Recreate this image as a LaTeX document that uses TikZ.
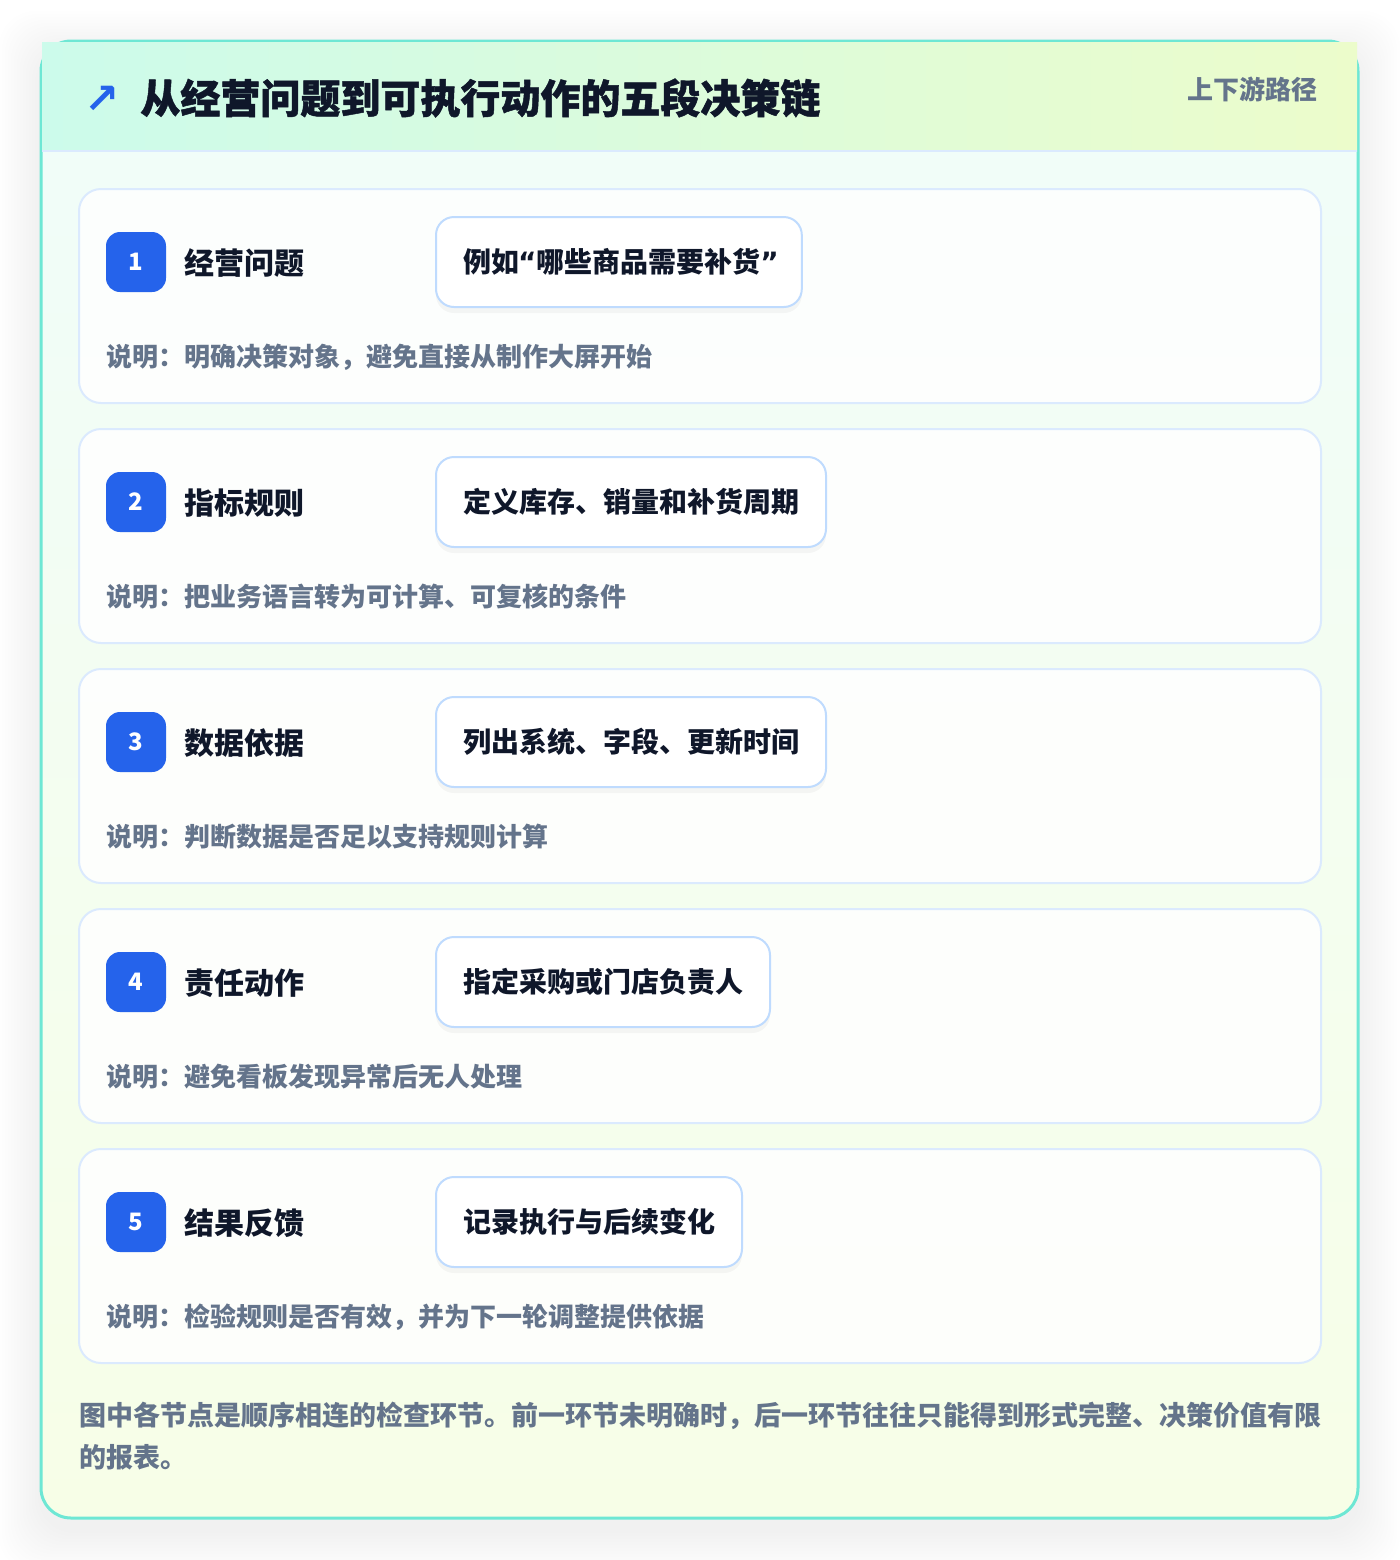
\documentclass[tikz,border=0pt]{standalone}
\usepackage{fontspec}
\setmainfont{Noto Sans CJK SC}
\newfontfamily\arrowfont{DejaVu Sans}
\newfontfamily\titlefont{Noto Sans CJK SC}[BoldFeatures={FakeBold=1.2}]
\usepackage{tikz}
\usetikzlibrary{shadows}
\definecolor{cardline}{HTML}{6EE7D4}
\definecolor{headleft}{HTML}{CCFBEB}
\definecolor{headright}{HTML}{ECFCCB}
\definecolor{headrule}{HTML}{DBEAFE}
\definecolor{cardtop}{HTML}{F0FDFA}
\definecolor{cardbottom}{HTML}{F7FEE7}
\definecolor{stepline}{HTML}{DBEAFE}
\definecolor{exline}{HTML}{BFDBFE}
\definecolor{badgeblue}{HTML}{2563EB}
\definecolor{inkdark}{HTML}{0F172A}
\definecolor{inkgray}{HTML}{64748B}
\tikzset{
  stepcard/.style={draw=stepline, line width=1pt, fill=white, fill opacity=0.85, rounded corners=11pt},
  badge/.style={fill=badgeblue, rounded corners=7pt, minimum size=30pt, inner sep=0pt,
    text=white, font=\bfseries\fontsize{12}{14}\selectfont},
  steplabel/.style={anchor=west, inner sep=0pt, text=inkdark, font=\bfseries\fontsize{15}{18}\selectfont},
  exbox/.style={anchor=west, draw=exline, line width=1pt, fill=white, rounded corners=9pt,
    minimum height=45pt, inner xsep=13.5pt, inner ysep=0pt, text=inkdark,
    font=\bfseries\fontsize{14}{17}\selectfont,
    drop shadow={opacity=0.07, shadow xshift=0pt, shadow yshift=-3pt}},
  stepnote/.style={anchor=west, inner sep=0pt, text=inkgray, font=\bfseries\fontsize{13}{16}\selectfont}
}
\begin{document}
\begin{tikzpicture}[x=0.5pt, y=-0.5pt]
\useasboundingbox (0,0) rectangle (1400,1560);
\fill[white] (0,0) rectangle (1400,1560);
% soft shadow under the card
\foreach \s in {3,6,...,42}
  \fill[black, opacity=0.005, rounded corners=18pt] (41-\s,53-\s) rectangle (1358+\s,1530+\s);
% card
\shade[top color=cardtop, bottom color=cardbottom, rounded corners=15pt] (41,41) rectangle (1358,1518);
\draw[cardline, line width=1.5pt, rounded corners=15pt] (41,41) rectangle (1358,1518);
% header
\shade[left color=headleft, right color=headright] (42,42) rectangle (1357,151);
\draw[headrule, line width=1pt] (42,151) -- (1357,151);
\node[text=badgeblue, font=\arrowfont\bfseries\fontsize{21}{24}\selectfont, inner sep=0pt] (icon) at (102,100) {↗};
\node[anchor=west, inner sep=0pt, text=inkdark, font=\titlefont\bfseries\fontsize{20}{24}\selectfont] (title) at (140,98)
  {从经营问题到可执行动作的五段决策链};
\node[anchor=east, inner sep=0pt, text=inkgray, font=\bfseries\fontsize{13}{16}\selectfont] (tag) at (1318,89)
  {上下游路径};
% five steps
\foreach \n/\lab/\ex/\desc [count=\i from 0] in {
  1/经营问题/例如{\arrowfont\kern-0.5pt“}哪些商品需要补货{\arrowfont”\kern-2pt}/说明：明确决策对象，避免直接从制作大屏开始,
  2/指标规则/定义库存、销量和补货周期/说明：把业务语言转为可计算、可复核的条件,
  3/数据依据/列出系统、字段、更新时间/说明：判断数据是否足以支持规则计算,
  4/责任动作/指定采购或门店负责人/说明：避免看板发现异常后无人处理,
  5/结果反馈/记录执行与后续变化/说明：检验规则是否有效，并为下一轮调整提供依据}
{
  \pgfmathsetmacro\top{189+240*\i}
  \draw[stepcard] (79,\top) rectangle (1321,\top+214);
  \node[badge] (badge\n) at (136,\top+73) {\n};
  \node[steplabel] (label\n) at (184,\top+74) {\lab};
  \node[exbox] (example\n) at (435,\top+73) {\ex};
  \node[stepnote] (note\n) at (106,\top+168) {\desc};
}
% footer
\node[anchor=north west, inner sep=0pt, align=left, text=inkgray, font=\bfseries\fontsize{13.5}{21}\selectfont] (footer) at (79,1402)
  {图中各节点是顺序相连的检查环节。前一环节未明确时，后一环节往往只能得到形式完整、决策价值有限\\的报表。};
\end{tikzpicture}
\end{document}
